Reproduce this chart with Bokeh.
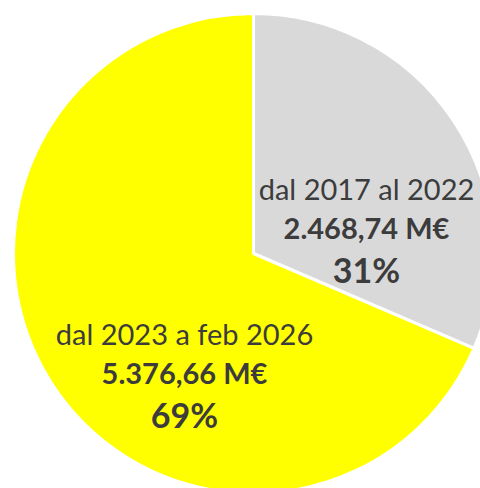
import math
from bokeh.plotting import figure
from bokeh.models import Range1d, ColumnDataSource
from bokeh.core.properties import value
from bokeh.embed import file_html
from bokeh.resources import INLINE

# ---- data ----
periods = ["dal 2017 al 2022", "dal 2023 a feb 2026"]
amounts = [2468.74, 5376.66]            # M€
amount_labels = ["2.468,74 M€", "5.376,66 M€"]
colors = ["#D9D9D9", "#FFFF00"]

# ---- layout constants ----
W, H = 480, 488
cx, cy, R = 253, 235, 240               # pie centre / radius (data units = px)
label_xy = [(366, 300), (184, 155)]     # anchor of first label line per slice
line_gap = [39, 81]
font = "Lato"
txt_color = "#3C3C3C"

total = sum(amounts)
fracs = [a / total for a in amounts]
pcts = [f"{round(f * 100)}%" for f in fracs]

starts, ends = [], []
ang = math.pi / 2
for f in fracs:
    starts.append(ang)
    ang -= f * 2 * math.pi
    ends.append(ang)

src = ColumnDataSource(dict(x=[cx] * len(amounts), y=[cy] * len(amounts),
                            start=starts, end=ends, color=colors))

p = figure(width=W, height=H, x_range=Range1d(0, W), y_range=Range1d(0, H),
           output_backend="svg", toolbar_location=None, min_border=0)
p.axis.visible = False
p.grid.visible = False
p.outline_line_color = None
p.background_fill_color = "white"

p.wedge(x="x", y="y", radius=R, start_angle="start", end_angle="end",
        direction="clock", fill_color="color", line_color="white",
        line_width=3, source=src)

for i in range(len(amounts)):
    lx, ly = label_xy[i]
    p.text(x=[lx], y=[ly], text=[periods[i]], text_font=value(font),
           text_font_size="29px", text_color=txt_color, text_align="center",
           text_baseline="alphabetic")
    p.text(x=[lx], y=[ly - line_gap[0]], text=[amount_labels[i]], text_font=value(font),
           text_font_size="29px", text_font_style="bold", text_color=txt_color,
           text_align="center", text_baseline="alphabetic")
    p.text(x=[lx], y=[ly - line_gap[1]], text=[pcts[i]], text_font=value(font),
           text_font_size="34px", text_font_style="bold", text_color=txt_color,
           text_align="center", text_baseline="alphabetic")

open("out.html", "w").write(file_html(p, INLINE))
